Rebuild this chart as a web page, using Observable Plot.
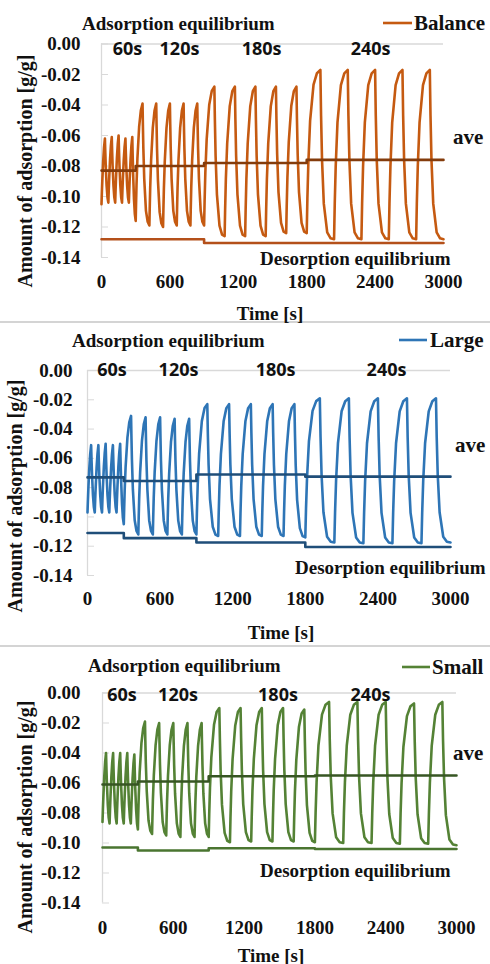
<!DOCTYPE html>
<html><head><meta charset="utf-8">
<script src="https://cdn.jsdelivr.net/npm/d3@7"></script>
<script src="https://cdn.jsdelivr.net/npm/@observablehq/plot@0.6"></script>
<style>
body{margin:0;background:#fff;}
#wrap{width:490px;}
#wrap svg{display:block;}
.sep{height:2px;background:#d4d4d4;}
</style></head><body><div id="wrap"></div>
<script>
// ---------- shared structure ----------
const segStart = [0, 300, 900, 1800];
const segEnd = [300, 900, 1800, 3000];
const segPeriod = [60, 120, 180, 240];
const cyclesPerSeg = [5, 5, 5, 5];
const periodLabels = ["60s", "120s", "180s", "240s"];
const xTicks = [0, 600, 1200, 1800, 2400, 3000];
const yTicks = [0, -0.02, -0.04, -0.06, -0.08, -0.10, -0.12, -0.14];

// shape of one half-cycle:
// share of the swing completed at these shares of the half-cycle
const phaseFrac = [0, 0.05, 0.12, 0.25, 0.5, 0.75, 1];
const riseShape = {
  60:  [0, 0.08, 0.19, 0.37, 0.66, 0.87, 1],
  120: [0, 0.14, 0.31, 0.53, 0.80, 0.94, 1],
  180: [0, 0.18, 0.38, 0.62, 0.87, 0.97, 1],
  240: [0, 0.21, 0.43, 0.69, 0.91, 0.98, 1]
};
const fallShape = {
  60:  [0, 0.10, 0.23, 0.44, 0.74, 0.92, 1],
  120: [0, 0.17, 0.37, 0.62, 0.88, 0.97, 1],
  180: [0, 0.22, 0.46, 0.72, 0.93, 0.99, 1],
  240: [0, 0.27, 0.53, 0.79, 0.96, 0.995, 1]
};

// ---------- Balance ----------
const balancePeaks = [
  -0.062, -0.061, -0.060, -0.062, -0.061,
  -0.039, -0.039, -0.039, -0.039, -0.039,
  -0.028, -0.028, -0.028, -0.028, -0.028,
  -0.017, -0.017, -0.017, -0.017, -0.017
];
const balanceTroughs = [
  -0.105, -0.104, -0.104, -0.104, -0.104,
  -0.116, -0.119, -0.120, -0.119, -0.119,
  -0.119, -0.126, -0.126, -0.126, -0.124,
  -0.124, -0.128, -0.128, -0.128, -0.128,
  -0.128
];
const balanceAve = [-0.083, -0.080, -0.078, -0.076];
const balanceDesorption = [-0.128, -0.128, -0.1305, -0.1305];

// ---------- Large ----------
const largePeaks = [
  -0.051, -0.051, -0.050, -0.051, -0.050,
  -0.031, -0.032, -0.032, -0.033, -0.033,
  -0.023, -0.023, -0.023, -0.023, -0.023,
  -0.019, -0.019, -0.019, -0.019, -0.019
];
const largeTroughs = [
  -0.097, -0.097, -0.097, -0.097, -0.097,
  -0.105, -0.112, -0.112, -0.112, -0.112,
  -0.112, -0.113, -0.113, -0.113, -0.113,
  -0.114, -0.1175, -0.118, -0.118, -0.118,
  -0.1175
];
const largeAve = [-0.073, -0.0755, -0.071, -0.0725];
const largeDesorption = [-0.111, -0.1145, -0.1175, -0.1205];

// ---------- Small ----------
const smallPeaks = [
  -0.040, -0.040, -0.040, -0.040, -0.041,
  -0.019, -0.020, -0.020, -0.020, -0.020,
  -0.010, -0.010, -0.010, -0.010, -0.011,
  -0.006, -0.006, -0.006, -0.007, -0.006
];
const smallTroughs = [
  -0.086, -0.087, -0.087, -0.087, -0.087,
  -0.091, -0.094, -0.095, -0.096, -0.096,
  -0.096, -0.0995, -0.099, -0.099, -0.099,
  -0.0995, -0.100, -0.100, -0.1005, -0.1005,
  -0.1015
];
const smallAve = [-0.061, -0.059, -0.0555, -0.055];
const smallDesorption = [-0.103, -0.105, -0.1035, -0.104];

// ---------- table builders ----------
function cycleSeries(peaks, troughs) {
  const pts = [];
  let i = 0;
  segStart.forEach((s, k) => {
    const P = segPeriod[k], half = P / 2;
    for (let c = 0; c < cyclesPerSeg[k]; c++, i++) {
      const t0 = s + c * P, lo0 = troughs[i], hi = peaks[i], lo1 = troughs[i + 1];
      phaseFrac.forEach((f, j) => {
        if (j === 0 && i > 0) return;
        pts.push({t: t0 + f * half, v: lo0 + riseShape[P][j] * (hi - lo0)});
      });
      phaseFrac.forEach((f, j) => {
        if (j === 0) return;
        pts.push({t: t0 + half + f * half, v: hi + fallShape[P][j] * (lo1 - hi)});
      });
    }
  });
  return pts;
}
function stepSeries(vals) {
  const pts = [];
  segStart.forEach((s, k) => { pts.push({t: s, v: vals[k]}); pts.push({t: segEnd[k], v: vals[k]}); });
  return pts;
}

const SERIF = "'Liberation Serif', 'DejaVu Serif', serif";
const SANS = "'Open Sans', 'Noto Sans', sans-serif";

function panel(cfg) {
  const svg = Plot.plot({
    width: 490, height: cfg.height,
    marginLeft: cfg.ml, marginRight: cfg.mr, marginTop: cfg.mt, marginBottom: cfg.mb,
    x: {domain: [0, 3000]},
    y: {domain: [-0.14, 0]},
    style: {fontSize: "19px", color: "#111", background: "#fff", overflow: "visible"},
    marks: [
      Plot.ruleX([0], {y1: -0.14, y2: 0, stroke: "#d9d9d9", strokeWidth: 1.3}),
      Plot.ruleY([0], {stroke: "#d9d9d9", strokeWidth: 1.3}),
      Plot.axisY(yTicks, {tickSize: 7, dx: 7, tickFormat: () => "", stroke: "#d9d9d9", label: null}),
      Plot.axisY(yTicks, {tickSize: 0, tickPadding: cfg.yPad, tickFormat: d => d.toFixed(2), label: null}),
      Plot.axisX(xTicks, {tickSize: 0, tickPadding: cfg.xPad, tickFormat: d => String(d), label: null}),
      Plot.line(cycleSeries(cfg.peaks, cfg.troughs), {x: "t", y: "v", stroke: cfg.color, strokeWidth: 2.6, strokeLinejoin: "round"}),
      Plot.line(stepSeries(cfg.des), {x: "t", y: "v", stroke: cfg.desColor, strokeWidth: 2.6}),
      Plot.line(stepSeries(cfg.ave), {x: "t", y: "v", stroke: cfg.aveColor, strokeWidth: 2.6}),
      Plot.text(periodLabels, {x: (d, i) => cfg.labelT[i], y: 0, text: d => d, dy: cfg.labelDy,
        fontSize: 18, fill: "#111"})
    ]
  });
  const s = d3.select(svg);
  const t = (x, y, str, o = {}) => s.append("text")
    .attr("x", x).attr("y", y).attr("dominant-baseline", "central")
    .attr("text-anchor", o.anchor || "start")
    .attr("font-size", o.size || 19)
    .attr("fill", "#111")
    .attr("transform", o.rotate ? `rotate(-90 ${x} ${y})` : null)
    .text(str);
  const a = cfg.ann;
  t(a.ads[0], a.ads[1], "Adsorption equilibrium");
  s.append("line").attr("x1", a.leg[0]).attr("x2", a.leg[1]).attr("y1", a.leg[2]).attr("y2", a.leg[2])
    .attr("stroke", cfg.color).attr("stroke-width", 2.6);
  t(a.leg[3], a.leg[2], cfg.name, {size: 21});
  t(a.ave[0], a.ave[1], "ave", {size: 21});
  t(a.des[0], a.des[1], "Desorption equilibrium");
  t(a.time[0], a.time[1], "Time [s]", {anchor: "middle"});
  t(a.ytitle[0], a.ytitle[1], "Amount of adsorption [g/g]", {anchor: "middle", rotate: true, size: 20});
  // fonts: serif bold everywhere, sans bold for the period labels
  s.selectAll("text").each(function() {
    this.style.fontFamily = SERIF;
    this.style.fontWeight = "700";
  });
  s.selectAll("g[aria-label='text'] text").each(function() { this.style.fontFamily = SANS; });
  return svg;
}

const panels = [
  {name: "Balance", peaks: balancePeaks, troughs: balanceTroughs, ave: balanceAve, des: balanceDesorption,
   color: "#C55A11", aveColor: "#843C0C", desColor: "#B4501A",
   height: 321, ml: 101, mr: 47, mt: 43.5, mb: 64, yPad: 21, xPad: 17,
   labelT: [228, 684, 1404, 2360], labelDy: 5,
   ann: {ads: [82, 23], leg: [383, 412, 23, 414], ave: [453, 137], des: [260, 258], time: [270, 313], ytitle: [25, 171]}},
  {name: "Large", peaks: largePeaks, troughs: largeTroughs, ave: largeAve, des: largeDesorption,
   color: "#2E75B6", aveColor: "#1F4E79", desColor: "#1F4E79",
   height: 322, ml: 87, mr: 40, mt: 47, mb: 70, yPad: 15, xPad: 16,
   labelT: [202, 752, 1554, 2471], labelDy: 0,
   ann: {ads: [72, 17], leg: [399, 427, 17, 430], ave: [455, 122], des: [295, 244], time: [281, 309], ytitle: [15, 173]}},
  {name: "Small", peaks: smallPeaks, troughs: smallTroughs, ave: smallAve, des: smallDesorption,
   color: "#548235", aveColor: "#375623", desColor: "#4A7530",
   height: 317, ml: 102, mr: 34, mt: 45.5, mb: 61.5, yPad: 22, xPad: 17,
   labelT: [165, 640, 1487, 2271], labelDy: 2,
   ann: {ads: [88, 18], leg: [402, 430, 20, 432], ave: [453, 106], des: [260, 223], time: [271, 308], ytitle: [25, 170]}}
];

const wrap = document.getElementById("wrap");
panels.forEach((cfg, i) => {
  if (i > 0) { const d = document.createElement("div"); d.className = "sep"; wrap.appendChild(d); }
  wrap.appendChild(panel(cfg));
});
</script></body></html>
